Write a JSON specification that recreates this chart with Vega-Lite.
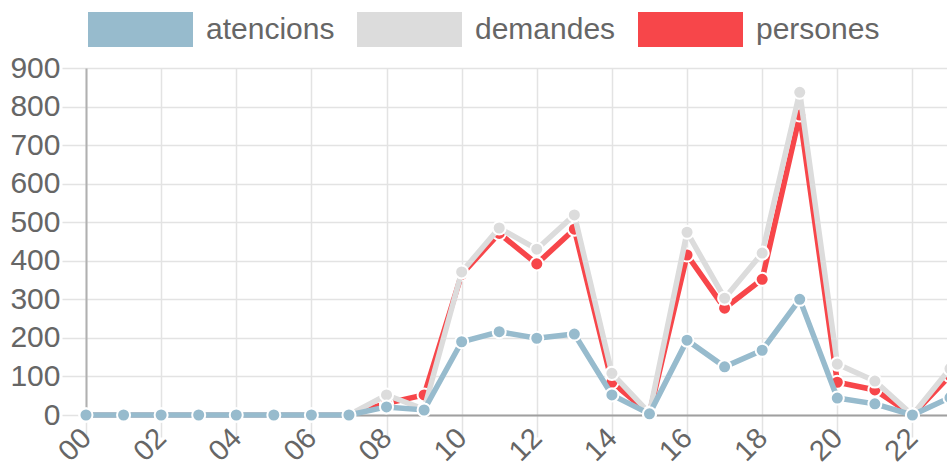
{
  "$schema": "https://vega.github.io/schema/vega-lite/v6.json",
  "autosize": {"type": "none"},
  "padding": {"left": 86, "top": 68, "right": 0, "bottom": 59},
  "width": 864,
  "height": 347,
  "background": "white",
  "data": {
    "values": [
      {"hora": 0, "serie": "atencions", "valor": 0}, {"hora": 0, "serie": "demandes", "valor": 0}, {"hora": 0, "serie": "persones", "valor": 0},
      {"hora": 1, "serie": "atencions", "valor": 0}, {"hora": 1, "serie": "demandes", "valor": 0}, {"hora": 1, "serie": "persones", "valor": 0},
      {"hora": 2, "serie": "atencions", "valor": 0}, {"hora": 2, "serie": "demandes", "valor": 0}, {"hora": 2, "serie": "persones", "valor": 0},
      {"hora": 3, "serie": "atencions", "valor": 0}, {"hora": 3, "serie": "demandes", "valor": 0}, {"hora": 3, "serie": "persones", "valor": 0},
      {"hora": 4, "serie": "atencions", "valor": 0}, {"hora": 4, "serie": "demandes", "valor": 0}, {"hora": 4, "serie": "persones", "valor": 0},
      {"hora": 5, "serie": "atencions", "valor": 0}, {"hora": 5, "serie": "demandes", "valor": 0}, {"hora": 5, "serie": "persones", "valor": 0},
      {"hora": 6, "serie": "atencions", "valor": 0}, {"hora": 6, "serie": "demandes", "valor": 0}, {"hora": 6, "serie": "persones", "valor": 0},
      {"hora": 7, "serie": "atencions", "valor": 0}, {"hora": 7, "serie": "demandes", "valor": 0}, {"hora": 7, "serie": "persones", "valor": 0},
      {"hora": 8, "serie": "atencions", "valor": 21}, {"hora": 8, "serie": "demandes", "valor": 52}, {"hora": 8, "serie": "persones", "valor": 30},
      {"hora": 9, "serie": "atencions", "valor": 13}, {"hora": 9, "serie": "demandes", "valor": 15}, {"hora": 9, "serie": "persones", "valor": 52},
      {"hora": 10, "serie": "atencions", "valor": 190}, {"hora": 10, "serie": "demandes", "valor": 371}, {"hora": 10, "serie": "persones", "valor": 365},
      {"hora": 11, "serie": "atencions", "valor": 216}, {"hora": 11, "serie": "demandes", "valor": 485}, {"hora": 11, "serie": "persones", "valor": 471},
      {"hora": 12, "serie": "atencions", "valor": 199}, {"hora": 12, "serie": "demandes", "valor": 430}, {"hora": 12, "serie": "persones", "valor": 392},
      {"hora": 13, "serie": "atencions", "valor": 210}, {"hora": 13, "serie": "demandes", "valor": 519}, {"hora": 13, "serie": "persones", "valor": 482},
      {"hora": 14, "serie": "atencions", "valor": 52}, {"hora": 14, "serie": "demandes", "valor": 108}, {"hora": 14, "serie": "persones", "valor": 85},
      {"hora": 15, "serie": "atencions", "valor": 3}, {"hora": 15, "serie": "demandes", "valor": 5}, {"hora": 15, "serie": "persones", "valor": 4},
      {"hora": 16, "serie": "atencions", "valor": 194}, {"hora": 16, "serie": "demandes", "valor": 474}, {"hora": 16, "serie": "persones", "valor": 415},
      {"hora": 17, "serie": "atencions", "valor": 125}, {"hora": 17, "serie": "demandes", "valor": 303}, {"hora": 17, "serie": "persones", "valor": 277},
      {"hora": 18, "serie": "atencions", "valor": 168}, {"hora": 18, "serie": "demandes", "valor": 420}, {"hora": 18, "serie": "persones", "valor": 352},
      {"hora": 19, "serie": "atencions", "valor": 300}, {"hora": 19, "serie": "demandes", "valor": 837}, {"hora": 19, "serie": "persones", "valor": 778},
      {"hora": 20, "serie": "atencions", "valor": 44}, {"hora": 20, "serie": "demandes", "valor": 132}, {"hora": 20, "serie": "persones", "valor": 85},
      {"hora": 21, "serie": "atencions", "valor": 29}, {"hora": 21, "serie": "demandes", "valor": 88}, {"hora": 21, "serie": "persones", "valor": 65},
      {"hora": 22, "serie": "atencions", "valor": 0}, {"hora": 22, "serie": "demandes", "valor": 0}, {"hora": 22, "serie": "persones", "valor": 0},
      {"hora": 23, "serie": "atencions", "valor": 45}, {"hora": 23, "serie": "demandes", "valor": 120}, {"hora": 23, "serie": "persones", "valor": 102}
    ]
  },
  "encoding": {
    "x": {
      "field": "hora", "type": "quantitative",
      "scale": {"domain": [0, 23], "nice": false, "zero": false},
      "axis": {
        "title": null,
        "values": [0, 2, 4, 6, 8, 10, 12, 14, 16, 18, 20, 22],
        "labelExpr": "datum.value < 10 ? '0' + datum.value : '' + datum.value",
        "labelAngle": -45,
        "labelAlign": "right",
        "labelBaseline": "middle",
        "labelPadding": -4,
        "labelFontSize": 29,
        "tickSize": 22,
        "domainColor": "#a0a0a0",
        "domainWidth": 2
      }
    },
    "y": {
      "field": "valor", "type": "quantitative",
      "scale": {"domain": [0, 900], "nice": false},
      "axis": {
        "title": null,
        "values": [0, 100, 200, 300, 400, 500, 600, 700, 800, 900],
        "tickSize": 24,
        "labelPadding": 2,
        "domainColor": "#b0b0b0",
        "domainWidth": 2
      }
    },
    "color": {
      "field": "serie", "type": "nominal",
      "scale": {"domain": ["atencions", "demandes", "persones"], "range": ["#97BBCD", "#DCDCDC", "#F7464A"]},
      "legend": {
        "title": null,
        "orient": "none",
        "legendX": 2,
        "legendY": -91,
        "direction": "horizontal",
        "symbolType": "M-1,-0.3333H1V0.3333H-1Z",
        "symbolSize": 11025,
        "symbolStrokeWidth": 0,
        "labelFontSize": 30,
        "labelColor": "#666666",
        "labelFont": "Liberation Sans",
        "labelOffset": 13,
        "columnPadding": 22,
        "encode": {
          "symbols": {"update": {"fill": {"scale": "color", "field": "value"}, "opacity": {"value": 1}}}
        }
      }
    }
  },
  "layer": [
    {
      "transform": [{"filter": "datum.serie == 'persones'"}],
      "mark": {"type": "line", "strokeWidth": 5.5, "point": {"filled": true, "size": 170, "stroke": "white", "strokeWidth": 2, "opacity": 1}}
    },
    {
      "transform": [{"filter": "datum.serie == 'demandes'"}],
      "mark": {"type": "line", "strokeWidth": 5.5, "point": {"filled": true, "size": 170, "stroke": "white", "strokeWidth": 2, "opacity": 1}}
    },
    {
      "transform": [{"filter": "datum.serie == 'atencions'"}],
      "mark": {"type": "line", "strokeWidth": 5.5, "point": {"filled": true, "size": 170, "stroke": "white", "strokeWidth": 2, "opacity": 1}}
    }
  ],
  "config": {
    "view": {"stroke": null},
    "font": "Liberation Sans",
    "axis": {
      "labelFont": "Liberation Sans",
      "labelFontSize": 30,
      "labelColor": "#666666",
      "gridColor": "#e3e3e3",
      "gridWidth": 1.5,
      "tickColor": "#e3e3e3",
      "tickWidth": 1.5,
      "labelOverlap": false,
      "labelFlush": false
    }
  }
}
